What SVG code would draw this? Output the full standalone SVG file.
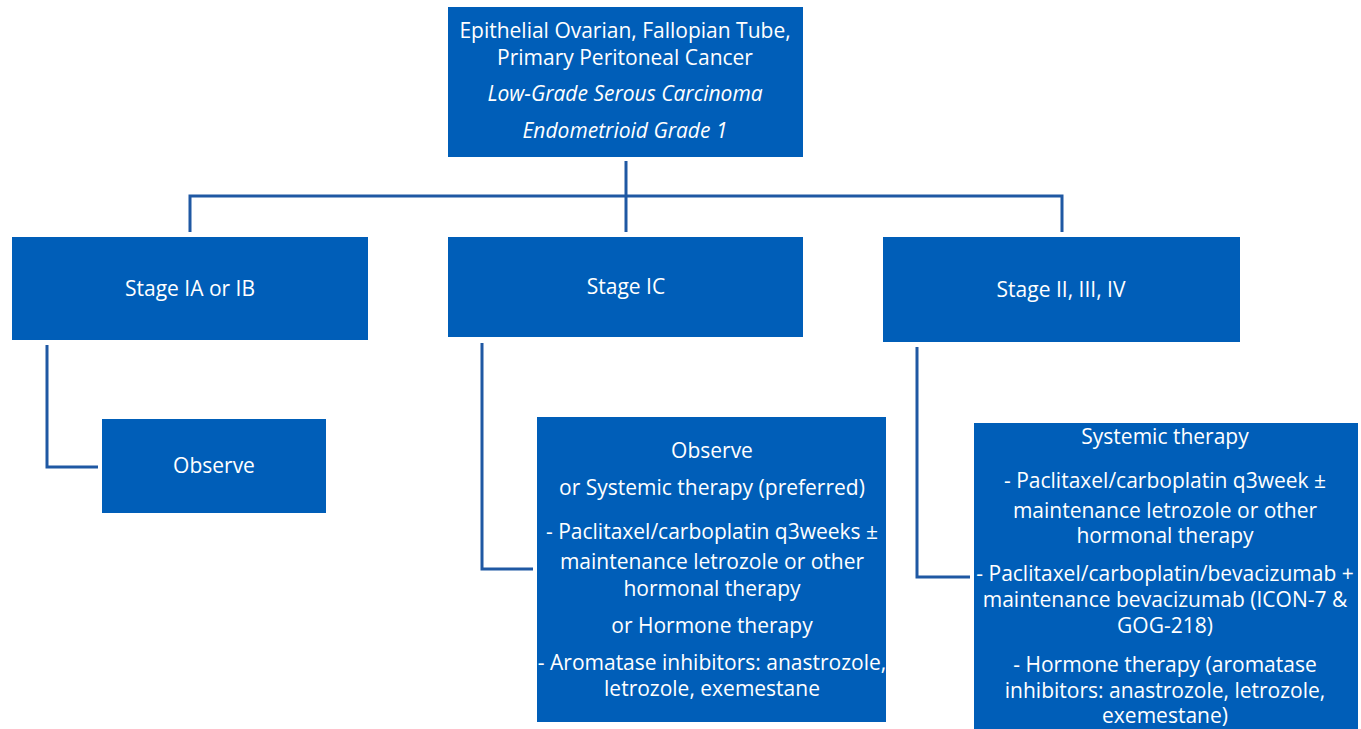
<svg xmlns="http://www.w3.org/2000/svg" width="1361" height="729" viewBox="0 0 1361 729">
<style>
.box{fill:#005EB8;}
.t{font-family:"Open Sans","Liberation Sans",Arial,sans-serif;font-size:21px;fill:#ffffff;text-anchor:middle;}
.i{font-style:italic;}
.c{fill:none;stroke:#1F58A3;stroke-width:3;}
</style>
<rect width="1361" height="729" fill="#ffffff"/>
<g id="connectors">
<path class="c" d="M626 161 V232"/>
<path class="c" d="M190 232 V196 H1062 V232"/>
<path class="c" d="M47 345 V467 H98"/>
<path class="c" d="M482 343 V569 H533"/>
<path class="c" d="M917 347 V577 H970"/>
</g>
<g id="root">
<rect class="box" x="448" y="7" width="355" height="150"/>
<text class="t" x="625" y="38">Epithelial Ovarian, Fallopian Tube,</text>
<text class="t" x="625" y="65">Primary Peritoneal Cancer</text>
<text class="t i" x="625" y="101">Low-Grade Serous Carcinoma</text>
<text class="t i" x="625" y="138">Endometrioid Grade 1</text>
</g>
<g id="stageIAIB">
<rect class="box" x="12" y="237" width="356" height="103"/>
<text class="t" x="190" y="296">Stage IA or IB</text>
</g>
<g id="stageIC">
<rect class="box" x="448" y="237" width="355" height="100"/>
<text class="t" x="626" y="294">Stage IC</text>
</g>
<g id="stageII">
<rect class="box" x="883" y="237" width="357" height="105"/>
<text class="t" x="1061" y="297">Stage II, III, IV</text>
</g>
<g id="observe">
<rect class="box" x="102" y="419" width="224" height="94"/>
<text class="t" x="214" y="473">Observe</text>
</g>
<g id="ic-treatment">
<rect class="box" x="537" y="417" width="349" height="305"/>
<text class="t" x="712" y="458">Observe</text>
<text class="t" x="712" y="495">or Systemic therapy (preferred)</text>
<text class="t" x="712" y="539">- Paclitaxel/carboplatin q3weeks ±</text>
<text class="t" x="712" y="569">maintenance letrozole or other</text>
<text class="t" x="712" y="596">hormonal therapy</text>
<text class="t" x="712" y="633">or Hormone therapy</text>
<text class="t" x="712" y="670">- Aromatase inhibitors: anastrozole,</text>
<text class="t" x="712" y="696">letrozole, exemestane</text>
</g>
<g id="advanced-treatment">
<rect class="box" x="974" y="423" width="384" height="306"/>
<text class="t" x="1165" y="444">Systemic therapy</text>
<text class="t" x="1165" y="488">- Paclitaxel/carboplatin q3week ±</text>
<text class="t" x="1165" y="518">maintenance letrozole or other</text>
<text class="t" x="1165" y="543">hormonal therapy</text>
<text class="t" x="1165" y="581">- Paclitaxel/carboplatin/bevacizumab +</text>
<text class="t" x="1165" y="607">maintenance bevacizumab (ICON-7 &amp;</text>
<text class="t" x="1165" y="633">GOG-218)</text>
<text class="t" x="1165" y="672">- Hormone therapy (aromatase</text>
<text class="t" x="1165" y="698">inhibitors: anastrozole, letrozole,</text>
<text class="t" x="1165" y="723">exemestane)</text>
</g>
</svg>
